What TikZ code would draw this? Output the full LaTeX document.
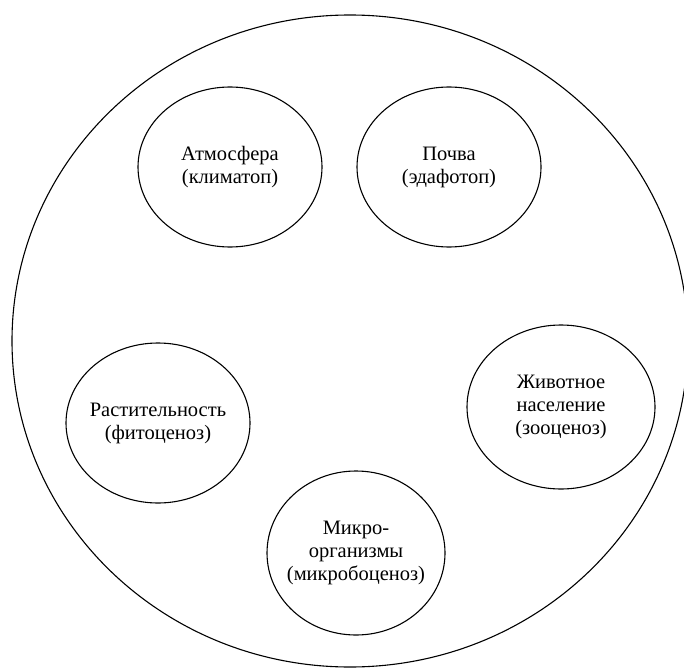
\documentclass[tikz,border=0pt]{standalone}
\usepackage{fontspec}
\setmainfont{Liberation Serif}
\usetikzlibrary{shapes.geometric}
\tikzset{
  outer/.style={ellipse,draw,line width=1.1pt,inner sep=0pt,minimum width=676pt,minimum height=652pt},
  part/.style={ellipse,draw,line width=1.1pt,inner sep=-30pt,align=center,
    font=\fontsize{20.5}{23}\selectfont,minimum width=184pt,minimum height=160pt}
}

\begin{document}
\begin{tikzpicture}[x=1pt,y=-1pt]
\useasboundingbox (0,0) rectangle (684,668);

% Whole ecosystem
\node[outer] (eco) at (350,341) {};

% Abiotic part, on top
\node[part] (atm) at (230,167) {Атмосфера\\(климатоп)};
\node[part] (soil) at (449,167) {Почва\\(эдафотоп)};

% Biotic part, below
\node[part] (plants) at (158,423) {Растительность\\(фитоценоз)};
\node[part,minimum width=188pt,minimum height=164pt] (animals) at (561,407) {Животное\\население\\(зооценоз)};
\node[part,minimum width=178pt,minimum height=164pt] (microbes) at (356,553) {Микро-\\организмы\\(микробоценоз)};

\end{tikzpicture}
\end{document}
